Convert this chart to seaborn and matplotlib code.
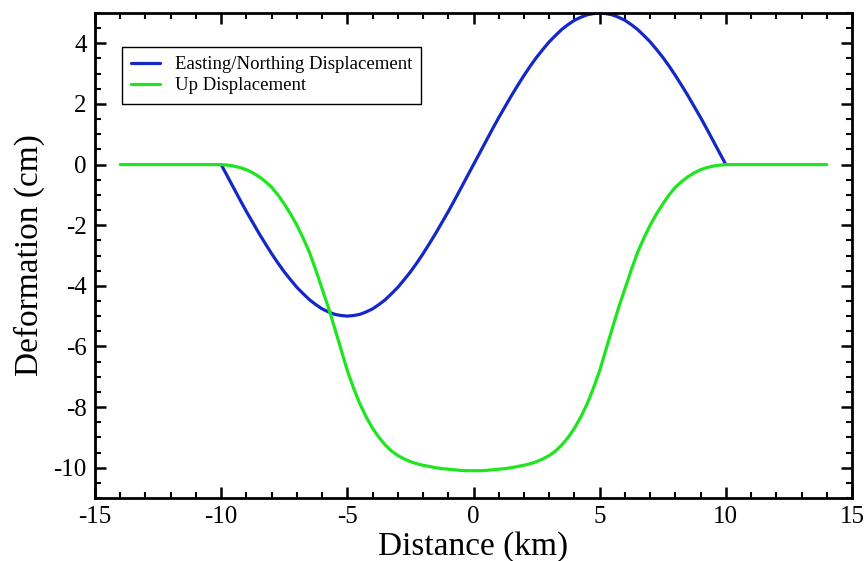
import matplotlib
matplotlib.use("Agg")
import matplotlib.pyplot as plt
import seaborn as sns
import pandas as pd
from matplotlib.ticker import MultipleLocator

# ---- data ----
# Easting/Northing displacement, sampled every 0.25 km from -10 to 10
x_blue = [i * 0.25 for i in range(-40, 41)]
y_blue = [0, -0.39, -0.78, -1.17, -1.55, -1.91, -2.27, -2.61, -2.94, -3.25, -3.54, -3.80,
          -4.05, -4.26, -4.46, -4.62, -4.76, -4.86, -4.94, -4.98, -5.0,
          -4.98, -4.94, -4.86, -4.76, -4.62, -4.46, -4.26, -4.05, -3.80, -3.54, -3.25,
          -2.94, -2.61, -2.27, -1.91, -1.55, -1.17, -0.78, -0.39,
          0, 0.39, 0.78, 1.17, 1.55, 1.91, 2.27, 2.61, 2.94, 3.25, 3.54, 3.80,
          4.05, 4.26, 4.46, 4.62, 4.76, 4.86, 4.94, 4.98, 5.0,
          4.98, 4.94, 4.86, 4.76, 4.62, 4.46, 4.26, 4.05, 3.80, 3.54, 3.25,
          2.94, 2.61, 2.27, 1.91, 1.55, 1.17, 0.78, 0.39, 0]

# Up displacement, -14 and 14 plus every 0.25 km from -10 to 10
x_green = [-14] + [i * 0.25 for i in range(-40, 41)] + [14]
y_green = [0,
           0, -0.02, -0.05, -0.10, -0.17, -0.27, -0.40, -0.56, -0.75, -1.0, -1.3, -1.63,
           -2.0, -2.43, -2.9, -3.48, -4.1, -4.72, -5.4, -6.1, -6.8, -7.38, -7.9, -8.33,
           -8.7, -9.0, -9.25, -9.45, -9.6, -9.71, -9.8, -9.87, -9.92, -9.96, -10.0,
           -10.03, -10.05, -10.07, -10.09, -10.1,
           -10.1,
           -10.1, -10.09, -10.07, -10.05, -10.03, -10.0, -9.96, -9.92, -9.87, -9.8,
           -9.71, -9.6, -9.45, -9.25, -9.0, -8.7, -8.33, -7.9, -7.38, -6.8, -6.1, -5.4,
           -4.72, -4.1, -3.48, -2.9, -2.43, -2.0, -1.63, -1.3, -1.0, -0.75, -0.56, -0.40,
           -0.27, -0.17, -0.10, -0.05, -0.02, 0,
           0]

series_names = ["Easting/Northing Displacement", "Up Displacement"]
series_colors = ["#1428c8", "#1ee61e"]

xlabel = "Distance (km)"
ylabel = "Deformation (cm)"

df = pd.concat([
    pd.DataFrame({"x": x_blue, "y": y_blue, "series": series_names[0]}),
    pd.DataFrame({"x": x_green, "y": y_green, "series": series_names[1]}),
], ignore_index=True)

sns.set_theme(style="ticks")
plt.rcParams["font.family"] = ["Liberation Serif", "DejaVu Serif"]
plt.rcParams["axes.unicode_minus"] = False
plt.rcParams["text.color"] = "black"
plt.rcParams["axes.labelcolor"] = "black"
plt.rcParams["xtick.color"] = "black"
plt.rcParams["ytick.color"] = "black"
plt.rcParams["xtick.labelcolor"] = "black"
plt.rcParams["ytick.labelcolor"] = "black"

fig = plt.figure(figsize=(8.67, 5.61), dpi=100)
ax = fig.add_axes([0.1096, 0.1123, 0.8731, 0.8645])

sns.lineplot(data=df, x="x", y="y", hue="series", palette=dict(zip(series_names, series_colors)),
             estimator=None, sort=False, linewidth=2.3, ax=ax, legend=True)
for ln in ax.get_lines():
    ln.set_solid_joinstyle("round")
    ln.set_solid_capstyle("round")

ax.set_xlim(-15, 15)
ax.set_ylim(-11, 5)
ax.xaxis.set_major_locator(MultipleLocator(5))
ax.xaxis.set_minor_locator(MultipleLocator(1))
ax.yaxis.set_major_locator(MultipleLocator(2))
ax.yaxis.set_minor_locator(MultipleLocator(0.5))

for s in ax.spines.values():
    s.set_linewidth(2.0)
    s.set_color("black")
    s.set_visible(True)

ax.tick_params(which="both", direction="in", top=True, right=True, color="black",
               labelcolor="black")
ax.tick_params(which="major", length=8, width=1.8, labelsize=18, pad=6)
ax.tick_params(which="minor", length=4.5, width=1.5)

ax.set_xlabel(xlabel, fontsize=24, labelpad=2, color="black")
ax.set_ylabel(ylabel, fontsize=24, labelpad=6, color="black")

handles, labels = ax.get_legend_handles_labels()
leg = ax.legend(handles, labels, loc="upper left", bbox_to_anchor=(0.0357, 0.93),
                borderaxespad=0, fontsize=13.5, frameon=True, fancybox=False,
                handlelength=1.5, handletextpad=0.8, borderpad=0.5, labelspacing=0.2)
leg.get_frame().set_edgecolor("black")
leg.get_frame().set_linewidth(1.0)
leg.get_frame().set_alpha(1)
for t in leg.get_texts():
    t.set_color("black")

fig.savefig("out.png", dpi=100)
